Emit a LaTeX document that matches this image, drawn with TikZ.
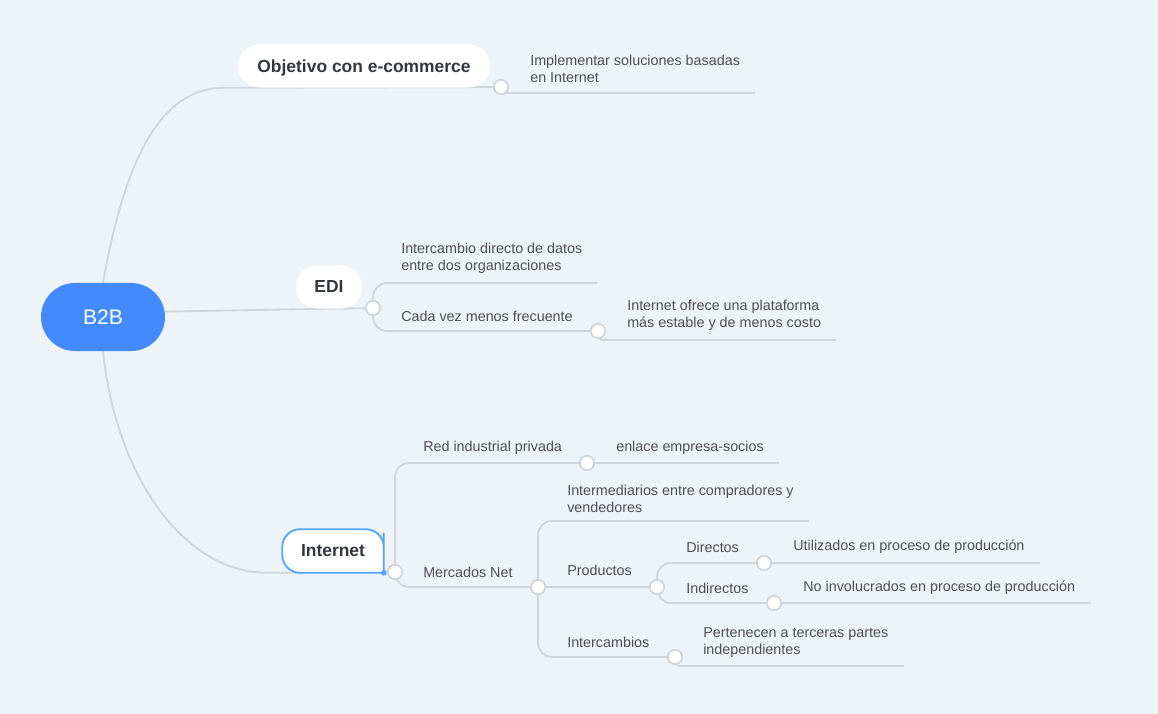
\documentclass[tikz,border=0pt]{standalone}
\usepackage{fontspec}
\setmainfont{Liberation Sans}
\definecolor{back_c}{RGB}{238,243,248}
\definecolor{line_c}{RGB}{208,213,218}
\definecolor{text_c}{RGB}{80,80,84}
\definecolor{head_c}{RGB}{52,56,62}
\definecolor{root_c}{RGB}{68,138,255}
\definecolor{sel_c}{RGB}{82,166,255}
\usetikzlibrary{positioning}
\pgfdeclarelayer{bg}
\pgfdeclarelayer{lines}
\pgfsetlayers{bg,lines,main}

\begin{document}
\begin{tikzpicture}[
	x=0.025cm, y=-0.025cm,
	branch/.style = {draw=line_c, line width=1.3pt, rounded corners=0.35cm},
	knob/.style = {circle, draw=line_c, fill=white, line width=1.2pt, minimum size=0.36cm, inner sep=0pt},
	topic/.style = {fill=white, text=head_c, font=\fontsize{12.4}{15}\selectfont\bfseries, minimum height=1.075cm, inner sep=0pt, text depth=0pt, rounded corners=0.53cm},
	note/.style = {anchor=west, align=left, text=text_c, font=\fontsize{10.2}{12.2}\selectfont, inner sep=0pt, yshift=-0.05cm},
	]
	\begin{pgfonlayer}{bg}
		\fill[back_c] (0,0) rectangle (1158,714);
	\end{pgfonlayer}
	% topics
	\node[topic, fill=root_c, text=white, font=\fontsize{15}{18}\selectfont, minimum width=3.1cm, minimum height=1.7cm, rounded corners=0.85cm] (b2b) at (103,317) {B2B};
	\node[topic, minimum width=6.3cm] (obj) at (364,66) {Objetivo con e-commerce};
	\node[topic, minimum width=1.65cm] (edi) at (329,287) {EDI};
	\node[topic, fill=none, minimum width=2.525cm] (net) at (333,551) {Internet};
	% knobs
	\node[knob] (k-obj) at (501,87) {};
	\node[knob] (k-edi) at (373,308) {};
	\node[knob] (k-cada) at (598,331) {};
	\node[knob] (k-net) at (395,572) {};
	\node[knob] (k-red) at (587,463) {};
	\node[knob] (k-merc) at (538,587) {};
	\node[knob] (k-prod) at (657,587) {};
	\node[knob] (k-dir) at (764,563) {};
	\node[knob] (k-ind) at (774,603) {};
	\node[knob] (k-inter) at (675,657) {};
	% notes
	\node[note] (n-impl) at (530,66.5) {Implementar soluciones basadas\\en Internet};
	\node[note] (n-datos) at (401,256.5) {Intercambio directo de datos\\entre dos organizaciones};
	\node[note] (n-cada) at (401,314) {Cada vez menos frecuente};
	\node[note] (n-plat) at (627,313.5) {Internet ofrece una plataforma\\más estable y de menos costo};
	\node[note] (n-red) at (423,446) {Red industrial privada};
	\node[note] (n-enl) at (616,446) {enlace empresa-socios};
	\node[note] (n-merc) at (423,570) {Mercados Net};
	\node[note] (n-interm) at (567,496.5) {Intermediarios entre compradores y\\vendedores};
	\node[note] (n-prod) at (567,568) {Productos};
	\node[note] (n-dir) at (686,545) {Directos};
	\node[note] (n-util) at (793,545) {Utilizados en proceso de producción};
	\node[note] (n-ind) at (686,586) {Indirectos};
	\node[note] (n-noinv) at (803,586) {No involucrados en proceso de producción};
	\node[note] (n-inter) at (567,640) {Intercambios};
	\node[note] (n-pert) at (703,640.5) {Pertenecen a terceras partes\\independientes};
	% free ends
	\coordinate (e-impl) at (755,93);
	\coordinate (e-datos) at (597,283);
	\coordinate (e-plat) at (836,340);
	\coordinate (e-enl) at (779,463);
	\coordinate (e-interm) at (809,521);
	\coordinate (e-util) at (1040,563);
	\coordinate (e-noinv) at (1091,603);
	\coordinate (e-pert) at (904,666);
	% edges
	\begin{pgfonlayer}{lines}
		\draw[branch] (b2b.north) .. controls (126,153) and (163,88) .. (obj.south west) -- (k-obj);
		\draw[branch] (b2b.5) -- (k-edi);
		\draw[branch] (b2b.south) .. controls (115,470) and (180,573) .. (net.south west) -- (k-net);
		\draw[branch] (k-obj) .. controls +(2,6) and +(-8,0) .. ([shift={(16,6)}]k-obj.center) -- (e-impl);
		\draw[branch] (k-edi) |- (e-datos);
		\draw[branch] (k-edi) |- (k-cada);
		\draw[branch] (k-cada) .. controls +(2,9) and +(-8,0) .. ([shift={(18,9)}]k-cada.center) -- (e-plat);
		\draw[branch] (k-net) |- (k-red);
		\draw[branch] (k-red) -- (e-enl);
		\draw[branch] (k-net) |- (k-merc);
		\draw[branch] (k-merc) |- (e-interm);
		\draw[branch] (k-merc) -- (k-prod);
		\draw[branch] (k-merc) |- (k-inter);
		\draw[branch] (k-prod) |- (k-dir);
		\draw[branch] (k-prod) |- (k-ind);
		\draw[branch] (k-dir) -- (e-util);
		\draw[branch] (k-ind) -- (e-noinv);
		\draw[branch] (k-inter) .. controls +(2,9) and +(-8,0) .. ([shift={(18,9)}]k-inter.center) -- (e-pert);
		% selected topic
		\draw[sel_c, fill=white, line width=1.3pt] (net.south) [rounded corners=0.45cm] -- (net.south west) -- (net.north west) -- (net.north east) -- (net.east) [sharp corners] -- (net.south east) -- cycle;
		\fill[sel_c] (net.south east) circle[radius=0.07cm];
	\end{pgfonlayer}
\end{tikzpicture}
\end{document}
